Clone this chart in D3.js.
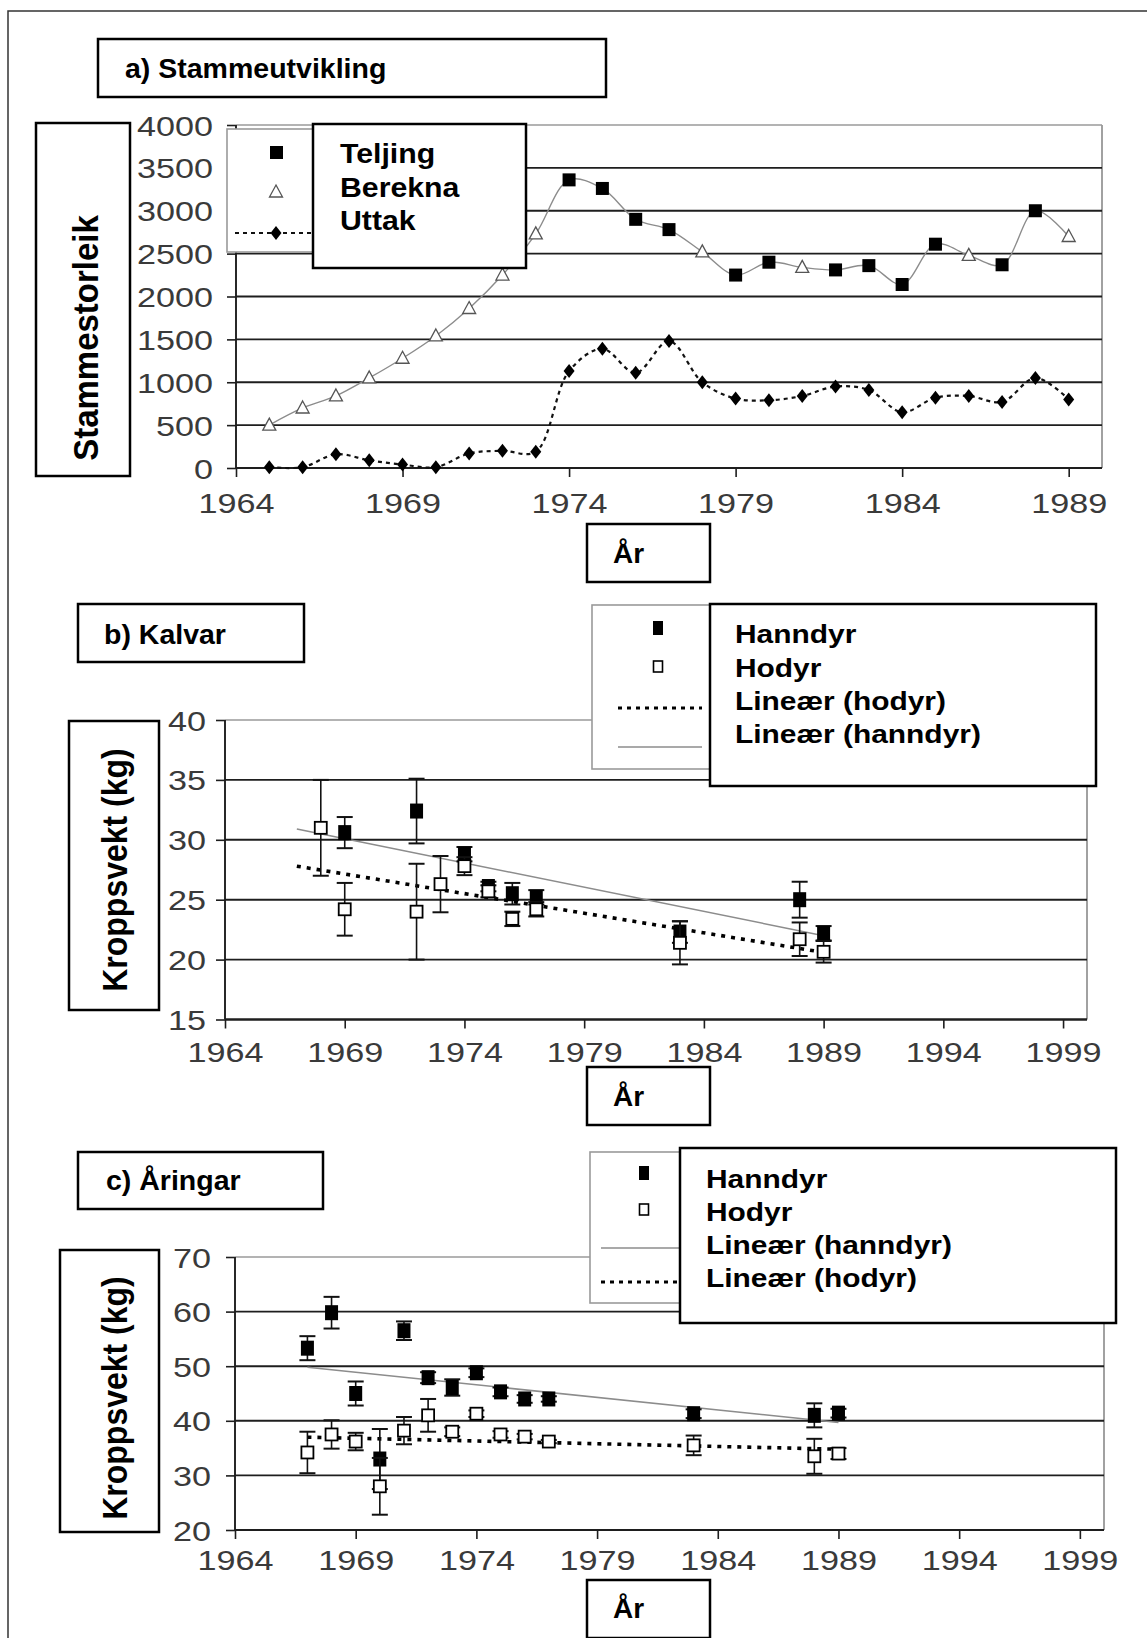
<!DOCTYPE html>
<html><head><meta charset="utf-8">
<script src="https://cdn.jsdelivr.net/npm/d3@7"></script>
<style>
body{margin:0;background:#fff}
svg{display:block}
text{font-family:"Liberation Sans",Arial,Helvetica,sans-serif}
</style>
</head><body>
<svg id="c" width="1147" height="1638"></svg>
<script>
// ---------- Panel a) Stammeutvikling ----------
const teljingYears = [1974,1975,1976,1977,1979,1980,1982,1983,1984,1985,1987,1988];
const teljing      = [3360,3260,2900,2780,2250,2400,2310,2360,2140,2610,2370,3000];
const bereknaYears = [1965,1966,1967,1968,1969,1970,1971,1972,1973,1978,1981,1986,1989];
const berekna      = [500,700,840,1050,1280,1540,1860,2250,2730,2520,2340,2480,2700];
const uttakYears   = [1965,1966,1967,1968,1969,1970,1971,1972,1973,1974,1975,1976,1977,1978,1979,1980,1981,1982,1983,1984,1985,1986,1987,1988,1989];
const uttak        = [10,10,160,90,40,10,170,200,190,1130,1390,1110,1480,1000,810,790,840,950,910,650,820,840,770,1050,800];
const aYTicks = [0,500,1000,1500,2000,2500,3000,3500,4000];
const aXTicks = [1964,1969,1974,1979,1984,1989];

// ---------- Panel b) Kalvar ----------
const kalvHanndyrYears = [1969,1972,1974,1975,1976,1977,1983,1988,1989];
const kalvHanndyr      = [30.6,32.4,28.8,26.1,25.5,25.2,22.3,25.0,22.2];
const kalvHanndyrErr   = [1.3,2.7,0.6,0.4,0.9,0.6,0.9,1.5,0.6];
const kalvHodyrYears   = [1968,1969,1972,1973,1974,1975,1976,1977,1983,1988,1989];
const kalvHodyr        = [31.0,24.2,24.0,26.3,27.8,25.7,23.4,24.2,21.4,21.7,20.65];
const kalvHodyrErr     = [4.0,2.2,4.0,2.35,0.75,0.5,0.6,0.6,1.8,1.4,0.9];
const kalvTrendYears   = [1967,1989];
const kalvHanndyrTrend = [30.9,22.0];
const kalvHodyrTrend   = [27.8,20.6];
const bYTicks = [15,20,25,30,35,40];

// ---------- Panel c) Åringar ----------
const aarHanndyrYears = [1967,1968,1969,1970,1971,1972,1973,1974,1975,1976,1977,1983,1988,1989];
const aarHanndyr      = [53.3,59.8,45.0,33.0,56.5,47.9,46.1,48.8,45.3,44.0,44.0,41.3,41.0,41.4];
const aarHanndyrErr   = [2.2,2.9,2.2,5.5,1.7,1.0,1.5,0.8,0.8,0.7,0.5,0.8,2.2,0.8];
const aarHodyrYears   = [1967,1968,1969,1970,1971,1972,1973,1974,1975,1976,1977,1983,1988,1989];
const aarHodyr        = [34.2,37.5,36.2,28.0,38.2,41.0,38.0,41.3,37.5,37.1,36.2,35.5,33.5,34.0];
const aarHodyrErr     = [3.8,2.6,1.6,5.2,2.5,3.0,0.8,0.6,0.6,0.5,0.3,1.8,3.2,1.0];
const aarTrendYears   = [1967,1989];
const aarHanndyrTrend = [49.8,39.7];
const aarHodyrTrend   = [37.0,34.8];
const cYTicks = [20,30,40,50,60,70];
const bcXTicks = [1964,1969,1974,1979,1984,1989,1994,1999];

const svg = d3.select("#c");
const zip = (xs, ys, es) => xs.map((x,i)=>({x, y:ys[i], e: es?es[i]:0}));

// outer frame
svg.append("rect").attr("x",8).attr("y",11).attr("width",1200).attr("height",1700)
  .attr("fill","none").attr("stroke","#333").attr("stroke-width",1.5);

function stretch(sel,k){
  sel.each(function(){
    const w=this.getComputedTextLength();
    this.setAttribute("textLength", w*k);
    this.setAttribute("lengthAdjust","spacingAndGlyphs");
  });
}
function box(x,y,w,h,stroke,sw){
  svg.append("rect").attr("x",x).attr("y",y).attr("width",w).attr("height",h)
    .attr("fill","#fff").attr("stroke",stroke).attr("stroke-width",sw);
}
function label(txt,x,y,size,k){
  const t = svg.append("text").attr("x",x).attr("y",y).attr("font-size",size)
    .attr("font-weight","bold").attr("fill","#000").text(txt);
  if(k && k!==1) stretch(t,k);
  return t;
}
function vlabel(txt,bx,cy,size,k){
  svg.append("text").attr("transform",`translate(${bx},${cy}) rotate(-90) scale(1,${k})`)
    .attr("text-anchor","middle").attr("font-size",size).attr("font-weight","bold")
    .attr("fill","#000").text(txt);
}

// generic frame with gridlines & axes
function frame(x, y, yTicks, xTicks, labRight, xLabBase){
  const g = svg.append("g");
  const [x0,x1] = x.range();
  const [yb,yt] = y.range();
  g.append("line").attr("x1",x1).attr("x2",x1).attr("y1",yt).attr("y2",yb)
    .attr("stroke","#8a8a8a").attr("stroke-width",1.6);
  yTicks.forEach((t,i)=>{
    const top = i===yTicks.length-1;
    g.append("line").attr("x1",x0).attr("x2",x1).attr("y1",y(t)).attr("y2",y(t))
      .attr("stroke", top?"#9a9a9a":"#1e1e1e").attr("stroke-width", top?1.6:1.9);
  });
  const ya = g.append("g").attr("transform",`translate(${x0},0)`)
    .call(d3.axisLeft(y).tickValues(yTicks).tickSize(9).tickFormat(d3.format("d")).tickPadding(x0-9-labRight));
  const xa = g.append("g").attr("transform",`translate(0,${yb})`)
    .call(d3.axisBottom(x).tickValues(xTicks).tickSize(9).tickFormat(d3.format("d")));
  [ya,xa].forEach(a=>{
    a.select(".domain").attr("stroke","#1e1e1e").attr("stroke-width",1.9);
    a.selectAll(".tick line").attr("stroke","#1e1e1e").attr("stroke-width",1.6);
    a.selectAll("text").attr("font-size",28).attr("fill","#3a3a3a")
      .attr("font-family",'"Liberation Sans",Arial,sans-serif');
  });
  ya.select(".domain").attr("d",`M0,${yb}V${yt}`);
  xa.select(".domain").attr("d",`M${x0},0H${x1}`);
  ya.selectAll("text").attr("dy","0.36em");
  xa.selectAll("text").attr("dy",null).attr("y", xLabBase-yb);
  stretch(ya.selectAll("text"),1.22);
  stretch(xa.selectAll("text"),1.22);
  return g;
}

// ===== Panel a =====
const xa = d3.scaleLinear().domain([1964,1990]).range([236,1102]);
const ya = d3.scaleLinear().domain([0,4000]).range([468,125]);
box(98,39,508,58,"#000",2.5);
label("a) Stammeutvikling",125,78,28.5,1);
box(36,123,94,353,"#000",2.5);
vlabel("Stammestorleik",98,338,33,1.05);
frame(xa,ya,aYTicks,aXTicks,213,513);
box(587,524,123,58,"#000",2.5);
label("År",613,563,28,1);

const popAll = zip(teljingYears,teljing).concat(zip(bereknaYears,berekna)).sort((a,b)=>a.x-b.x);
svg.append("path").datum(popAll)
  .attr("d", d3.line().x(d=>xa(d.x)).y(d=>ya(d.y)).curve(d3.curveCatmullRom.alpha(0.5)))
  .attr("fill","none").attr("stroke","#8c8c8c").attr("stroke-width",1.4);
svg.append("path").datum(zip(uttakYears,uttak))
  .attr("d", d3.line().x(d=>xa(d.x)).y(d=>ya(d.y)).curve(d3.curveCatmullRom.alpha(0.5)))
  .attr("fill","none").attr("stroke","#111").attr("stroke-width",2.2).attr("stroke-dasharray","4,4");

const triPath = "M0,-7L6.5,5L-6.5,5Z";
const diaPath = "M0,-7L5.5,0L0,7L-5.5,0Z";
svg.append("g").selectAll("path").data(zip(bereknaYears,berekna)).join("path")
  .attr("transform",d=>`translate(${xa(d.x)},${ya(d.y)})`).attr("d",triPath)
  .attr("fill","#fff").attr("stroke","#555").attr("stroke-width",1.3);
svg.append("g").selectAll("rect").data(zip(teljingYears,teljing)).join("rect")
  .attr("x",d=>xa(d.x)-6.5).attr("y",d=>ya(d.y)-6.5).attr("width",13).attr("height",13).attr("fill","#000");
svg.append("g").selectAll("path").data(zip(uttakYears,uttak)).join("path")
  .attr("transform",d=>`translate(${xa(d.x)},${ya(d.y)})`).attr("d",diaPath).attr("fill","#000");

// legend a
box(227,129,100,123,"#9a9a9a",1.6);
svg.append("rect").attr("x",270).attr("y",146).attr("width",13).attr("height",13).attr("fill","#000");
svg.append("path").attr("transform","translate(276,192)").attr("d",triPath).attr("fill","#fff").attr("stroke","#555").attr("stroke-width",1.3);
svg.append("line").attr("x1",235).attr("x2",312).attr("y1",233).attr("y2",233).attr("stroke","#111").attr("stroke-width",2.2).attr("stroke-dasharray","4,4");
svg.append("path").attr("transform","translate(276,233)").attr("d",diaPath).attr("fill","#000");
box(313,124,213,144,"#000",2.5);
label("Teljing",340,163,28,1.08);
label("Berekna",340,197,28,1.08);
label("Uttak",340,230,28,1.08);

// ===== weight panels =====
function weightPanel(o){
  const x = d3.scaleLinear().domain([1964,2000]).range(o.xr);
  const y = d3.scaleLinear().domain(o.yd).range(o.yr);
  box(o.title[0],o.title[1],o.title[2],o.title[3],"#000",2.5);
  label(o.titleText,o.title[4],o.title[5],28.5,1);
  box(o.ybox[0],o.ybox[1],o.ybox[2],o.ybox[3],"#000",2.5);
  vlabel("Kroppsvekt (kg)",o.ybox[4],o.ybox[5],32,1.12);
  frame(x,y,o.yTicks,bcXTicks,o.labRight,o.xLabBase);
  box(587,o.arBox[0],123,o.arBox[1],"#000",2.5);
  label("År",613,o.arBox[2],28,1);

  const line = d3.line().x(d=>x(d.x)).y(d=>y(d.y));
  svg.append("path").datum(zip(o.trendYears,o.hanTrend)).attr("d",line)
    .attr("fill","none").attr("stroke","#8c8c8c").attr("stroke-width",1.5);
  svg.append("path").datum(zip(o.trendYears,o.hoTrend)).attr("d",line)
    .attr("fill","none").attr("stroke","#000").attr("stroke-width",3.6).attr("stroke-dasharray","4,6");

  function series(data, filled){
    const g = svg.append("g");
    const eb = g.selectAll("g.eb").data(data).join("g");
    eb.append("line").attr("x1",d=>x(d.x)).attr("x2",d=>x(d.x))
      .attr("y1",d=>y(d.y-d.e)).attr("y2",d=>y(d.y+d.e)).attr("stroke","#111").attr("stroke-width",1.6);
    [1,-1].forEach(s=>eb.append("line").attr("x1",d=>x(d.x)-8).attr("x2",d=>x(d.x)+8)
      .attr("y1",d=>y(d.y+s*d.e)).attr("y2",d=>y(d.y+s*d.e)).attr("stroke","#111").attr("stroke-width",2));
    if(filled){
      g.selectAll("rect.m").data(data).join("rect")
        .attr("x",d=>x(d.x)-6.5).attr("y",d=>y(d.y)-7.5).attr("width",13).attr("height",15).attr("fill","#000");
    } else {
      g.selectAll("rect.m").data(data).join("rect")
        .attr("x",d=>x(d.x)-6).attr("y",d=>y(d.y)-6).attr("width",12).attr("height",12)
        .attr("fill","#fff").attr("stroke","#000").attr("stroke-width",1.8);
    }
  }
  series(o.han,true);
  series(o.ho,false);

  const L = o.leg;
  box(L.gx,L.gy,L.gw,L.gh,"#9a9a9a",1.6);
  svg.append("rect").attr("x",L.mx-5).attr("y",L.r1-7).attr("width",10).attr("height",14).attr("fill","#000");
  svg.append("rect").attr("x",L.mx-4.5).attr("y",L.r2-6).attr("width",9).attr("height",11)
    .attr("fill","#fff").attr("stroke","#000").attr("stroke-width",1.6);
  o.legLines.forEach((k,i)=>{
    const yy = i===0?L.r3:L.r4;
    const l = svg.append("line").attr("x1",L.lx0).attr("x2",L.lx1).attr("y1",yy).attr("y2",yy);
    if(k==="solid") l.attr("stroke","#8c8c8c").attr("stroke-width",1.6);
    else l.attr("stroke","#000").attr("stroke-width",3.2).attr("stroke-dasharray","4,5");
  });
  box(L.bx,L.by,L.bw,L.bh,"#000",2.5);
  o.legText.forEach((t,i)=>label(t,L.tx,L.tb[i],26,1.15));
}

weightPanel({
  xr:[225,1087], yd:[15,40], yr:[1019.5,720], yTicks:bYTicks, labRight:206, xLabBase:1062,
  title:[78,604,226,58,104,644], titleText:"b) Kalvar",
  ybox:[69,721,90,289,127,870],
  arBox:[1067,58,1106],
  trendYears:kalvTrendYears, hanTrend:kalvHanndyrTrend, hoTrend:kalvHodyrTrend,
  han:zip(kalvHanndyrYears,kalvHanndyr,kalvHanndyrErr),
  ho:zip(kalvHodyrYears,kalvHodyr,kalvHodyrErr),
  leg:{gx:592,gy:605,gw:118,gh:164,mx:658,r1:628,r2:667,r3:708,r4:747,lx0:618,lx1:702,
       bx:710,by:604,bw:386,bh:182,tx:735,tb:[643,677,710,743]},
  legLines:["dotted","solid"],
  legText:["Hanndyr","Hodyr","Lineær (hodyr)","Lineær (hanndyr)"]
});

weightPanel({
  xr:[235,1104], yd:[20,70], yr:[1530,1257], yTicks:cYTicks, labRight:211, xLabBase:1570,
  title:[78,1152,245,57,106,1190], titleText:"c) Åringar",
  ybox:[60,1250,99,282,127,1398],
  arBox:[1580,58,1618],
  trendYears:aarTrendYears, hanTrend:aarHanndyrTrend, hoTrend:aarHodyrTrend,
  han:zip(aarHanndyrYears,aarHanndyr,aarHanndyrErr),
  ho:zip(aarHodyrYears,aarHodyr,aarHodyrErr),
  leg:{gx:590,gy:1152,gw:92,gh:151,mx:644,r1:1173,r2:1210,r3:1248,r4:1282,lx0:601,lx1:680,
       bx:680,by:1148,bw:436,bh:175,tx:706,tb:[1188,1221,1254,1287]},
  legLines:["solid","dotted"],
  legText:["Hanndyr","Hodyr","Lineær (hanndyr)","Lineær (hodyr)"]
});
</script>
</body></html>
